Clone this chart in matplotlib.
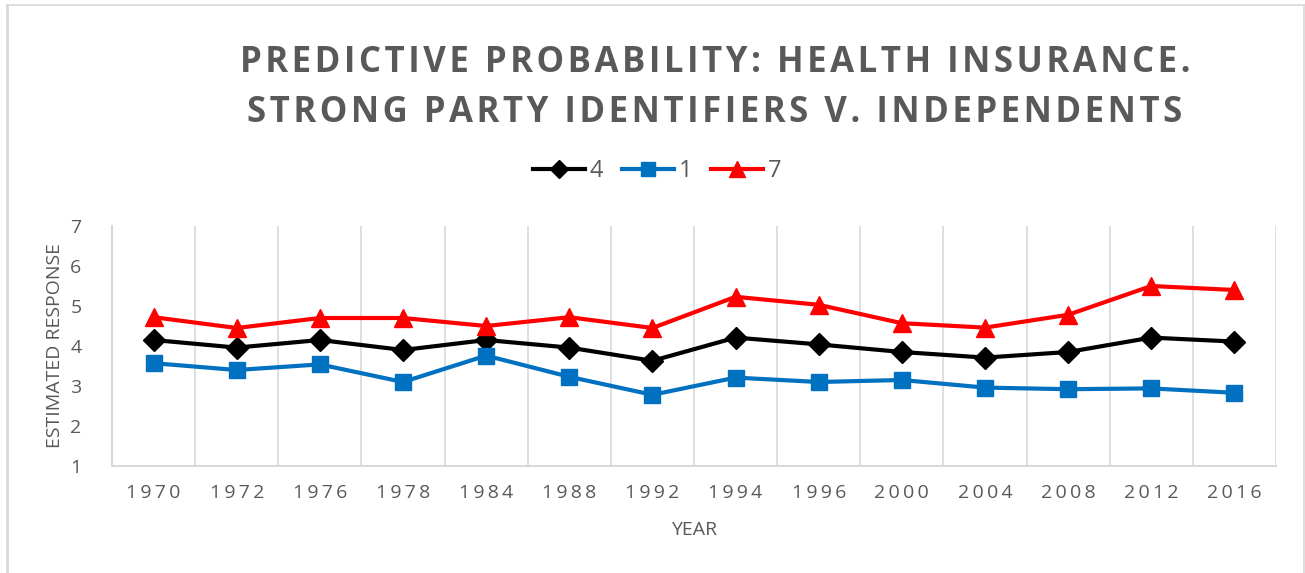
import matplotlib
matplotlib.use("Agg")
import matplotlib.pyplot as plt
from matplotlib.lines import Line2D

# ── data ───────────────────────────────────────────────────────────────────
years = ["1970", "1972", "1976", "1978", "1984", "1988", "1992",
         "1994", "1996", "2000", "2004", "2008", "2012", "2016"]
pid4 = [4.15, 3.96, 4.15, 3.90, 4.15, 3.96, 3.63, 4.21, 4.04, 3.85, 3.71, 3.85, 4.21, 4.11]
pid1 = [3.57, 3.40, 3.54, 3.10, 3.76, 3.23, 2.78, 3.21, 3.10, 3.15, 2.96, 2.92, 2.94, 2.83]
pid7 = [4.72, 4.45, 4.70, 4.70, 4.50, 4.72, 4.45, 5.23, 5.03, 4.57, 4.46, 4.78, 5.50, 5.40]

TXT = "#595959"
GRID = "#d9d9d9"
FONT = ["Open Sans", "DejaVu Sans"]
plt.rcParams["font.family"] = FONT

W, H = 1305, 573
fig = plt.figure(figsize=(W / 100, H / 100), dpi=100)
ax = fig.add_axes([112 / W, 1 - 466 / H, (1276 - 112) / W, (466 - 226) / H])

def spaced(s, sep="\u2009"):
    return sep.join(s)

x = range(len(years))
ax.plot(x, pid4, color="black", lw=3, marker="D", ms=11, label="4", zorder=3)
ax.plot(x, pid1, color="#0070c0", lw=3, marker="s", ms=12, label="1", zorder=3)
ax.plot(x, pid7, color="#ff0000", lw=3, marker="^", ms=13, label="7", zorder=3)

ax.set_xlim(-0.5, len(years) - 0.5)
ax.set_ylim(1, 7)
ax.set_xticks(list(x))
ax.set_xticklabels([spaced(y) for y in years], fontsize=14, color=TXT)
ax.set_xticks([i - 0.5 for i in range(len(years) + 1)], minor=True)
ax.grid(True, which="minor", axis="x", color=GRID, lw=1.2)
ax.set_yticks(range(1, 8))
ax.set_yticklabels([str(v) for v in range(1, 8)], fontsize=14, color=TXT)
ax.tick_params(which="both", length=0)
ax.tick_params(axis="x", pad=13)
ax.tick_params(axis="y", pad=22)
for s in ["top", "right"]:
    ax.spines[s].set_visible(False)
for s in ["left", "bottom"]:
    ax.spines[s].set_color(GRID)
    ax.spines[s].set_linewidth(1.5)

fig.text(694 / W, 1 - 530 / H, "YEAR", fontsize=14, color=TXT, ha="center", va="center")
fig.text(55 / W, 1 - 345 / H, "ESTIMATED RESPONSE", fontsize=14, color=TXT,
         ha="center", va="center", rotation=90)

# title
fig.text(715 / W, 1 - 63 / H, spaced("PREDICTIVE PROBABILITY: HEALTH INSURANCE.", "\u200a"),
         fontsize=25, weight="bold", color=TXT, ha="center", va="center")
fig.text(715 / W, 1 - 113 / H, spaced("STRONG PARTY IDENTIFIERS V. INDEPENDENTS", "\u200a"),
         fontsize=25, weight="bold", color=TXT, ha="center", va="center")

leg = fig.legend(loc="center", bbox_to_anchor=(657 / W, 1 - 171 / H), ncol=3,
                 frameon=False, fontsize=17, handlelength=2.2, columnspacing=0.8,
                 handletextpad=0.2, markerscale=0.85)
for t in leg.get_texts():
    t.set_color(TXT)

# chart-area border
fig.add_artist(Line2D([7 / W, 7 / W], [0, 1 - 5 / H], color=GRID, lw=2))
fig.add_artist(Line2D([7 / W, 1304 / W], [1 - 5 / H, 1 - 5 / H], color=GRID, lw=1.2))
fig.add_artist(Line2D([1304 / W, 1304 / W], [0, 1 - 5 / H], color=GRID, lw=1.2))

fig.savefig("out.png", dpi=100, facecolor="white")
